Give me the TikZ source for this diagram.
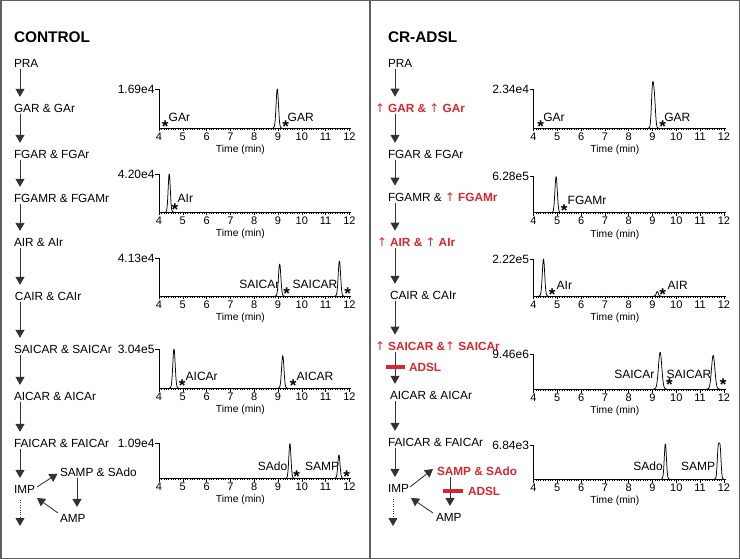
\documentclass[tikz,border=0pt]{standalone}
\usepackage{fontspec}
\setmainfont{Liberation Sans}
\newfontfamily\arrowfont{DejaVu Sans}
\usetikzlibrary{arrows.meta}
\definecolor{myred}{RGB}{218,38,46}
\definecolor{framec}{RGB}{95,95,95}
\newcommand\up{{\arrowfont\mdseries ↑}}
\newcommand\pk[3]{\pgfmathsetmacro\pa{#1-4*#3}\pgfmathsetmacro\pb{#1+4*#3}%
  \draw[peakl] plot[domain=\pa:\pb,samples=41,smooth] (\x,{#2*exp(-0.5*(\x-#1)*(\x-#1)/(#3*#3))});}
\newcommand\pkk[5]{\pgfmathsetmacro\pa{#1-4*#5}\pgfmathsetmacro\pb{#3+4*#5}%
  \draw[peakl] plot[domain=\pa:\pb,samples=61,smooth] (\x,{#2*exp(-0.5*(\x-#1)*(\x-#1)/(#5*#5))+#4*exp(-0.5*(\x-#3)*(\x-#3)/(#5*#5))});}
\newcommand\chart[6]{%
  \begin{scope}[shift={({#2-4*23.8},#3)},x=23.8pt,y=#4pt]
    \draw[axisl] (4,1) -- (4,0) -- (12.08,0);
    \draw[axisl] (4,1) -- ++(-4pt,0);
    \foreach \i in {0,...,80} \draw[tickl] (4+\i/10,0) -- ++(0,-2pt);
    \foreach \n in {4,...,12} {\draw[tickl] (\n,0) -- ++(0,-3.5pt);
      \node[ticklbl] (#1t\n) at (\n,0) {\n};}
    \node[timelbl] (#1time) at (7.42,0) {Time (min)};
    \node[ylbl] (#1y) at (4,1) {#5};
    #6
  \end{scope}}
\begin{document}
\begin{tikzpicture}[x=1pt,y=-1pt,
  every node/.style={inner sep=0pt,outer sep=0pt,font=\fontsize{11.8}{14}\selectfont},
  lbl/.style={anchor=west},
  redlbl/.style={anchor=west,text=myred,font=\fontsize{11.8}{14}\selectfont\bfseries},
  titlel/.style={anchor=west,font=\fontsize{15.4}{18}\selectfont\bfseries},
  arr/.style={draw=black!80,line width=0.85pt,shorten <=2pt,shorten >=7pt,
    -{Triangle[width=9pt,length=8pt]}},
  darr/.style={draw=black!80,line width=0.85pt,dash pattern=on 0.8pt off 1.6pt,
    -{Triangle[width=9pt,length=8pt]}},
  redbar/.style={draw=myred,line width=4.5pt},
  axisl/.style={draw=black,line width=0.9pt},
  tickl/.style={draw=black,line width=0.5pt},
  peakl/.style={draw=black,line width=0.75pt,line join=round},
  ticklbl/.style={anchor=north,yshift=-4.5pt,font=\fontsize{11}{13}\selectfont},
  timelbl/.style={anchor=north,yshift=-17.5pt,font=\fontsize{10.3}{12}\selectfont},
  ylbl/.style={anchor=east,xshift=-4.5pt,font=\fontsize{12}{14}\selectfont},
  pl/.style={font=\fontsize{12}{14}\selectfont},
  plw/.style={pl,anchor=west},
  ple/.style={pl,anchor=east},
  starl/.style={anchor=base,yshift=-8pt,font=\fontsize{17}{18}\selectfont\bfseries}]
\useasboundingbox (0,0) rectangle (740,559);
\draw[framec,line width=1.5pt] (0.75,0.75) rectangle (739.25,558.25);
\draw[framec,line width=1.3pt] (370,0) -- (370,559);

% ---------------- left pathway ----------------
\coordinate (lx) at (20,0);
\coordinate (lsx) at (77,0);
\node[titlel] (control) at (14,37) {CONTROL};
\node[lbl] (lpra) at (14,63) {PRA};
\node[lbl] (lgar) at (14,108) {GAR \& GAr};
\node[lbl] (lfgar) at (14,154) {FGAR \& FGAr};
\node[lbl] (lfgamr) at (14,198) {FGAMR \& FGAMr};
\node[lbl] (lair) at (14,242) {AIR \& AIr};
\node[lbl] (lcair) at (15,296) {CAIR \& CAIr};
\node[lbl] (lsaicar) at (14,349) {SAICAR \& SAICAr};
\node[lbl] (laicar) at (14,396) {AICAR \& AICAr};
\node[lbl] (lfaicar) at (14,443) {FAICAR \& FAICAr};
\node[lbl] (limp) at (14,489) {IMP};
\node[lbl] (lsamp) at (60,472) {SAMP \& SAdo};
\node[lbl] (lamp) at (60,518) {AMP};
\coordinate (ldot) at (20,526);
\draw[arr] (lpra.south -| lx) -- (lgar.north -| lx);
\draw[arr] (lgar.south -| lx) -- (lfgar.north -| lx);
\draw[arr] (lfgar.south -| lx) -- (lfgamr.north -| lx);
\draw[arr] (lfgamr.south -| lx) -- (lair.north -| lx);
\draw[arr] (lair.south -| lx) -- (lcair.north -| lx);
\draw[arr] (lcair.south -| lx) -- (lsaicar.north -| lx);
\draw[arr] (lsaicar.south -| lx) -- (laicar.north -| lx);
\draw[arr] (laicar.south -| lx) -- (lfaicar.north -| lx);
\draw[arr] (lfaicar.south -| lx) -- (limp.north -| lx);
\draw[darr,shorten <=7pt] (limp.south -| lx) -- (ldot);
\draw[arr,shorten <=0pt,shorten >=3pt] ([xshift=2pt,yshift=2pt]limp.east) -- ([yshift=0pt]lsamp.west);
\draw[arr] (lsamp.south -| lsx) -- (lamp.north -| lsx);
\draw[arr,shorten <=0pt,shorten >=0pt] ([xshift=-2pt,yshift=5pt]lamp.west) -- ([xshift=2pt,yshift=-9pt]limp.east);

% ---------------- right pathway ----------------
\coordinate (rx) at (395,0);
\coordinate (rsx) at (450,0);
\node[titlel] (cradsl) at (388,37) {CR-ADSL};
\node[lbl] (rpra) at (388,63) {PRA};
\node[redlbl] (rgar) at (375,108) {\up{} GAR \& \up{} GAr};
\node[lbl] (rfgar) at (388,154) {FGAR \& FGAr};
\node[lbl] (rfgamr) at (388,197) {FGAMR \& {\color{myred}\bfseries\up{} FGAMr}};
\node[redlbl] (rair) at (377,242) {\up{} AIR \& \up{} AIr};
\node[lbl] (rcair) at (390,295) {CAIR \& CAIr};
\node[redlbl] (rsaicar) at (375,346) {\up{} SAICAR \&\up{} SAICAr};
\node[redlbl] (radsla) at (409,367) {ADSL};
\node[lbl] (raicar) at (390,395) {AICAR \& AICAr};
\node[lbl] (rfaicar) at (388,442) {FAICAR \& FAICAr};
\node[lbl] (rimp) at (388,488) {IMP};
\node[redlbl] (rsamp) at (437,471) {SAMP \& SAdo};
\node[redlbl] (radslb) at (468,491) {ADSL};
\node[lbl] (ramp) at (436,517) {AMP};
\coordinate (rdot) at (393,526);
\coordinate (rdx) at (393,0);
\draw[arr] (rpra.south -| rx) -- (rgar.north -| rx);
\draw[arr] (rgar.south -| rx) -- (rfgar.north -| rx);
\draw[arr] (rfgar.south -| rx) -- (rfgamr.north -| rx);
\draw[arr] (rfgamr.south -| rx) -- (rair.north -| rx);
\draw[arr] (rair.south -| rx) -- (rcair.north -| rx);
\draw[arr] (rcair.south -| rx) -- (rsaicar.north -| rx);
\draw[arr] (rsaicar.south -| rx) -- (raicar.north -| rx);
\draw[arr] (raicar.south -| rx) -- (rfaicar.north -| rx);
\draw[arr] (rfaicar.south -| rx) -- (rimp.north -| rx);
\draw[darr,shorten <=7pt] (rimp.south -| rdx) -- (rdot);
\draw[arr,shorten <=0pt,shorten >=0pt] ([xshift=1pt,yshift=1pt]rimp.east) -- ([xshift=-4pt,yshift=2pt]rsamp.west);
\draw[arr] (rsamp.south -| rsx) -- (ramp.north -| rsx);
\draw[arr,shorten <=0pt,shorten >=0pt] ([xshift=-3pt,yshift=4pt]ramp.west) -- ([xshift=2pt,yshift=-10pt]rimp.east);
\draw[redbar] (386,367) -- (405,367);
\draw[redbar] (443,491) -- (463,491);

% ---------------- left charts ----------------
\chart{lc1}{159}{128}{39}{1.69e4}{\pk{8.97}{1}{0.05}}
\chart{lc2}{159}{212}{38}{4.20e4}{\pk{4.43}{1}{0.045}}
\chart{lc3}{159}{296}{38}{4.13e4}{\pk{9.07}{0.84}{0.05}\pk{11.58}{0.92}{0.05}}
\chart{lc4}{159}{388}{39}{3.04e5}{\pk{4.63}{1}{0.05}\pk{9.2}{0.83}{0.05}}
\chart{lc5}{159}{478}{35}{1.09e4}{\pk{9.5}{0.98}{0.045}\pk{11.56}{0.66}{0.045}}

\node[starl] (l1s1) at (165.3,125) {*};
\node[plw] (l1a) at (168.7,117) {GAr};
\node[starl] (l1s2) at (285.7,125) {*};
\node[plw] (l1b) at (287.7,117) {GAR};
\node[starl] (l2s1) at (175,207.3) {*};
\node[plw] (l2a) at (177.7,198.3) {AIr};
\node[ple] (l3a) at (279.3,284) {SAICAr};
\node[starl] (l3s1) at (286.7,292) {*};
\node[plw] (l3b) at (292.7,284) {SAICAR};
\node[starl] (l3s2) at (347.7,291.7) {*};
\node[starl] (l4s1) at (182.3,383.3) {*};
\node[plw] (l4a) at (185.7,376) {AICAr};
\node[starl] (l4s2) at (293.3,383.3) {*};
\node[plw] (l4b) at (296.7,376) {AICAR};
\node[ple] (l5a) at (287.3,466.7) {SAdo};
\node[starl] (l5s1) at (296.7,474) {*};
\node[plw] (l5b) at (305,466) {SAMP};
\node[starl] (l5s2) at (346.7,474) {*};

% ---------------- right charts ----------------
\chart{rc1}{533.5}{128}{39}{2.34e4}{\pkk{9.0}{1}{9.08}{0.7}{0.045}}
\chart{rc2}{533.5}{212.5}{36.5}{6.28e5}{\pk{4.95}{0.98}{0.05}}
\chart{rc3}{533.5}{296}{37}{2.22e5}{\pk{4.42}{1}{0.05}\pk{9.2}{0.12}{0.04}}
\chart{rc4}{533.5}{389}{35}{9.46e6}{\pk{9.32}{1.05}{0.07}\pk{11.55}{0.96}{0.07}}
\chart{rc5}{533.5}{479}{34}{6.84e3}{\pk{9.54}{1.03}{0.045}\pkk{11.76}{0.86}{11.84}{0.88}{0.04}}

\node[starl] (r1s1) at (540.7,125) {*};
\node[plw] (r1a) at (543.3,117) {GAr};
\node[starl] (r1s2) at (662.7,125) {*};
\node[plw] (r1b) at (664.3,117) {GAR};
\node[starl] (r2s1) at (564.3,209) {*};
\node[plw] (r2a) at (567.7,200) {FGAMr};
\node[starl] (r3s1) at (552.3,292.3) {*};
\node[plw] (r3a) at (556.7,285) {AIr};
\node[starl] (r3s2) at (662.7,292.3) {*};
\node[plw] (r3b) at (667.7,285) {AIR};
\node[ple] (r4a) at (654.3,374.3) {SAICAr};
\node[starl] (r4s1) at (669.5,382.7) {*};
\node[plw] (r4b) at (666.7,374) {SAICAR};
\node[starl] (r4s2) at (723.3,382.7) {*};
\node[ple] (r5a) at (662.7,466.7) {SAdo};
\node[plw] (r5b) at (681,466) {SAMP};
\end{tikzpicture}
\end{document}
